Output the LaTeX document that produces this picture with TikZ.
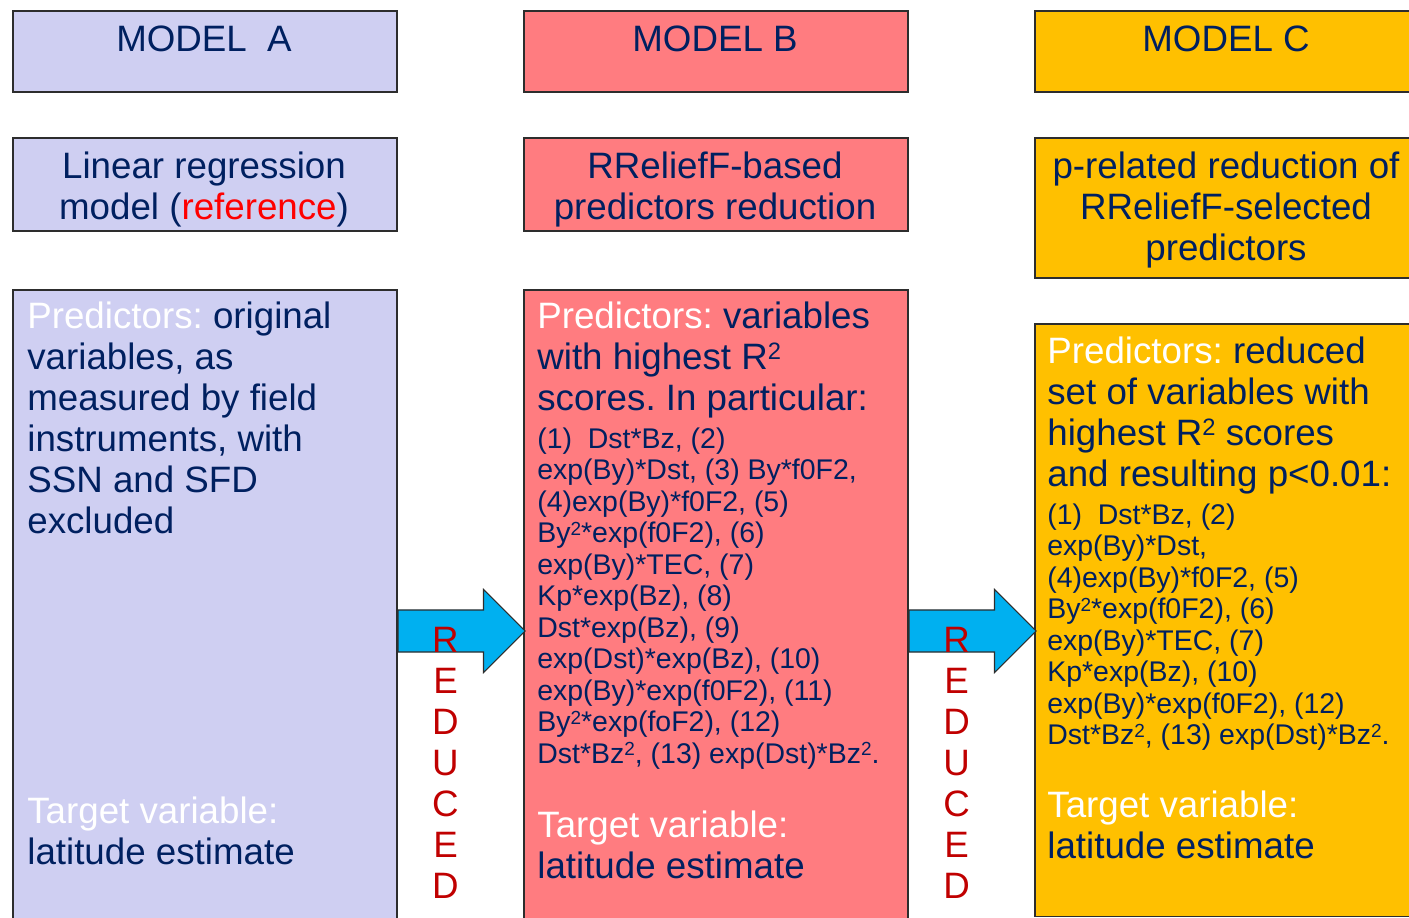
\documentclass[tikz,border=0pt]{standalone}
\usepackage{fontspec}
\setmainfont{Liberation Sans}
\usetikzlibrary{shapes.arrows}
\definecolor{lavender}{RGB}{207,207,242}
\definecolor{salmon}{RGB}{255,124,128}
\definecolor{amber}{RGB}{255,192,0}
\definecolor{navy}{RGB}{0,32,96}
\definecolor{arrowblue}{RGB}{0,176,240}
\definecolor{reddark}{RGB}{192,0,0}
\definecolor{frame}{RGB}{45,45,45}
\newcommand{\bigtxt}{\fontsize{20.9}{23.33}\selectfont}
\newcommand{\smalltxt}{\fontsize{16.2}{17.93}\selectfont}
\newcommand{\sqbig}{\raisebox{5.6pt}{\fontsize{13.5}{13.5}\selectfont 2}}
\newcommand{\sqsmall}{\raisebox{4.4pt}{\fontsize{10.8}{10.8}\selectfont 2}}
\frenchspacing

\begin{document}
\begin{tikzpicture}[x=0.02cm, y=-0.02cm, navy,
	box/.style={draw=frame, line width=0.9pt, rectangle, inner sep=0pt, anchor=north west, minimum width=7.68cm},
	txt/.style={inner sep=0pt, anchor=north west, align=left, font=\bigtxt},
	lst/.style={inner sep=0pt, anchor=north west, align=left, font=\smalltxt},
	ttl/.style={inner sep=0pt, anchor=north, align=center, font=\bigtxt},
	blockarrow/.style={single arrow, draw=frame, fill=arrowblue, line width=0.6pt, inner sep=0.41cm,
		minimum height=2.54cm, single arrow head extend=0.41cm, single arrow tip angle=90, anchor=tail},
	reduced/.style={inner sep=0pt, anchor=north, align=center, font=\bigtxt, reddark}]

	\useasboundingbox (0,0) rectangle (1409,918);

	% model A
	\node[box, fill=lavender, minimum height=1.62cm] (headA) at (12,10) {};
	\node[box, fill=lavender, minimum height=1.86cm] (methA) at (12,137) {};
	\node[box, fill=lavender, minimum height=12.9cm] (bodyA) at (12,289) {};
	\node[ttl] (headAtxt) at (204,22.3) {\strut MODEL\ \ A};
	\node[ttl] (methAtxt) at (204,149.3) {\strut Linear regression\\model ({\color{red}reference})};
	\node[txt] (predA) at (27,299.3) {\strut{\color{white}Predictors:} original\\variables, as\\measured by field\\instruments, with\\SSN and SFD\\excluded};
	\node[txt] (targA) at (27,794.3) {\strut{\color{white}Target variable:}\\latitude estimate};

	% model B
	\node[box, fill=salmon, minimum height=1.62cm] (headB) at (523,10) {};
	\node[box, fill=salmon, minimum height=1.86cm] (methB) at (523,137) {};
	\node[box, fill=salmon, minimum height=12.9cm] (bodyB) at (523,289) {};
	\node[ttl] (headBtxt) at (715,22.3) {\strut MODEL B};
	\node[ttl] (methBtxt) at (715,149.3) {\strut RReliefF-based\\predictors reduction};
	\node[txt] (predB) at (537,299.3) {\strut{\color{white}Predictors:} variables\\with highest R\sqbig\\scores. In particular:};
	\node[lst] (listB) at (537,426) {\strut(1)\ \ Dst*Bz, (2)\\exp(By)*Dst, (3) By*f0F2,\\(4)exp(By)*f0F2, (5)\\By\sqsmall*exp(f0F2), (6)\\exp(By)*TEC, (7)\\Kp*exp(Bz), (8)\\Dst*exp(Bz), (9)\\exp(Dst)*exp(Bz), (10)\\exp(By)*exp(f0F2), (11)\\By\sqsmall*exp(foF2), (12)\\Dst*Bz\sqsmall, (13) exp(Dst)*Bz\sqsmall.};
	\node[txt] (targB) at (537,808.3) {\strut{\color{white}Target variable:}\\latitude estimate};

	% model C
	\node[box, fill=amber, minimum height=1.62cm] (headC) at (1034,10) {};
	\node[box, fill=amber, minimum height=2.8cm] (methC) at (1034,137) {};
	\node[box, fill=amber, minimum height=11.86cm] (bodyC) at (1034,323) {};
	\node[ttl] (headCtxt) at (1226,22.3) {\strut MODEL C};
	\node[ttl] (methCtxt) at (1226,149.3) {\strut p-related reduction of\\RReliefF-selected\\predictors};
	\node[txt] (predC) at (1047,334.3) {\strut{\color{white}Predictors:} reduced\\set of variables with\\highest R\sqbig\ scores\\and resulting p<0.01:};
	\node[lst] (listC) at (1047,502) {\strut(1)\ \ Dst*Bz, (2)\\exp(By)*Dst,\\(4)exp(By)*f0F2, (5)\\By\sqsmall*exp(f0F2), (6)\\exp(By)*TEC, (7)\\Kp*exp(Bz), (10)\\exp(By)*exp(f0F2), (12)\\Dst*Bz\sqsmall, (13) exp(Dst)*Bz\sqsmall.};
	\node[txt] (targC) at (1047,788.3) {\strut{\color{white}Target variable:}\\latitude estimate};

	% arrows between the models
	\node[blockarrow] (arrowAB) at (bodyA.east |- 0,631) {};
	\node[blockarrow] (arrowBC) at (bodyB.east |- 0,631) {};
	\node[reduced] (redAB) at (445.5,623.3) {\strut R\\E\\D\\U\\C\\E\\D};
	\node[reduced] (redBC) at (956.5,623.3) {\strut R\\E\\D\\U\\C\\E\\D};

\end{tikzpicture}
\end{document}
